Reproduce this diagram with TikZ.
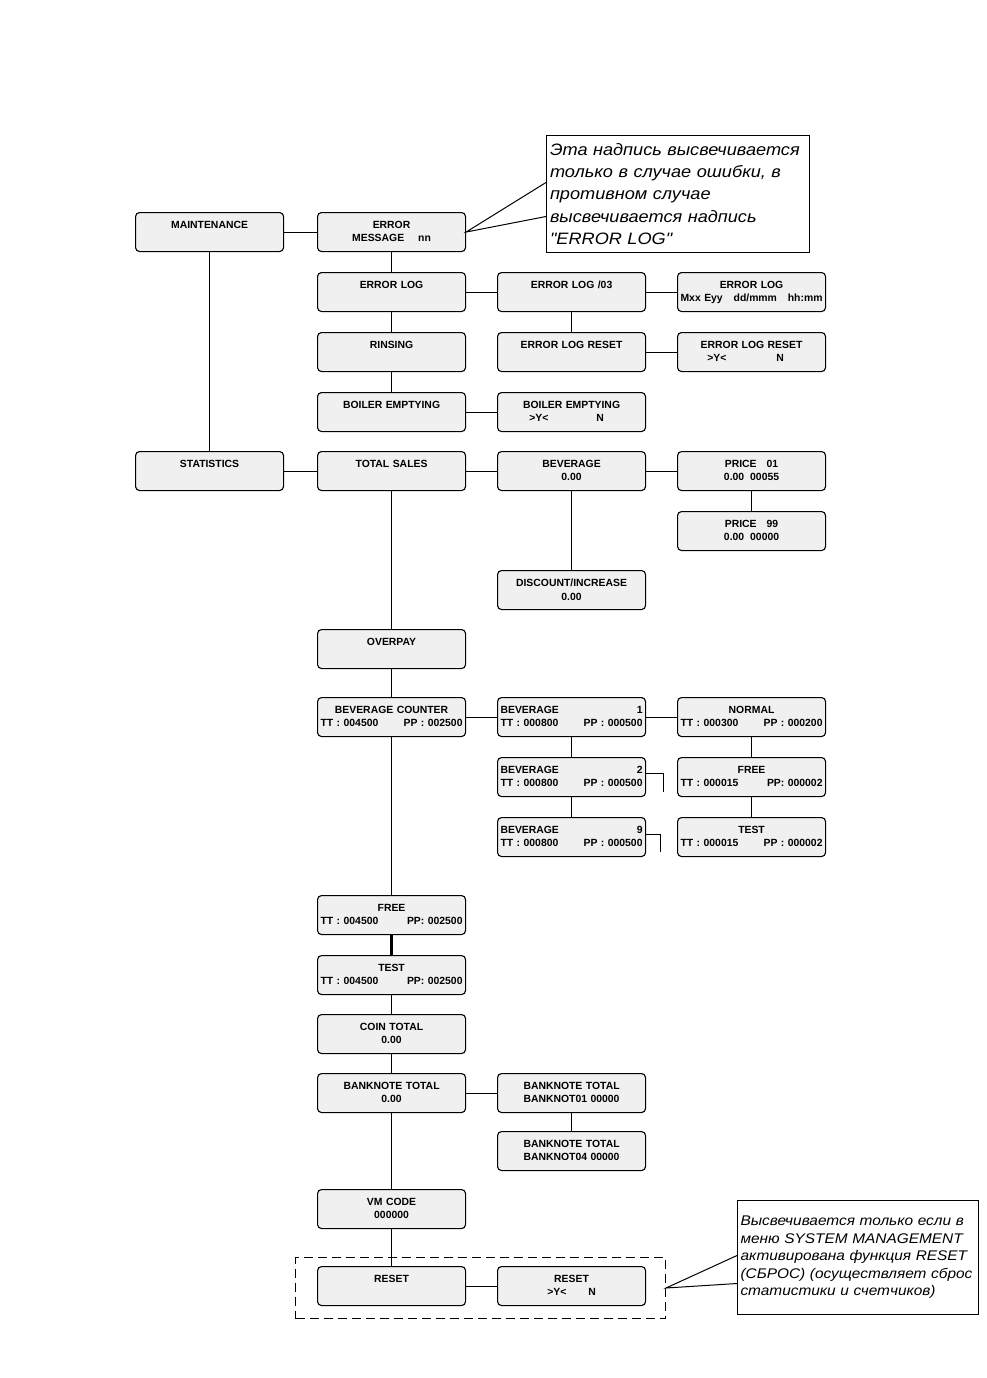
\documentclass[tikz,border=0pt]{standalone}
\usepackage{fontspec}
\setmainfont{Liberation Sans}
\newfontfamily\calloutfont[FakeStretch=1.1]{Liberation Sans}
\definecolor{boxgray}{HTML}{F0F0F0}
\tikzset{
  box/.style={draw, line width=1.1pt, rounded corners=4pt, fill=boxgray,
    minimum width=148pt, minimum height=39pt, inner sep=0pt, anchor=north west},
  boxtxt/.style={anchor=north, inner sep=0pt, align=center, text width=142pt,
    font=\fontsize{10.4}{13.5}\selectfont\bfseries},
  conn/.style={line width=1pt},
  thickconn/.style={line width=2.6pt},
  callout/.style={draw, line width=1pt, fill=white, anchor=north west, inner sep=3pt,
    align=left},
}
\newcommand\mbx[4]{%
  \node[box] (#1) at (#2,#3) {};
  \node[boxtxt] (#1-t) at ([yshift=-9pt]#1.north) {#4};
}
\begin{document}
\begin{tikzpicture}[x=1pt,y=-1pt]
\useasboundingbox (0,0) rectangle (986,1378);

% column A
\mbx{maint}{135}{212}{MAINTENANCE}
\mbx{stat}{135}{451}{STATISTICS}
% column B
\mbx{errmsg}{317}{212}{ERROR\\MESSAGE\hspace{14pt}nn}
\mbx{errlog}{317}{272}{ERROR LOG}
\mbx{rinse}{317}{332}{RINSING}
\mbx{boiler}{317}{392}{BOILER EMPTYING}
\mbx{total}{317}{451}{TOTAL SALES}
\mbx{overpay}{317}{629}{OVERPAY}
\mbx{bevcnt}{317}{697}{BEVERAGE COUNTER\\TT : 004500\hfill PP : 002500}
\mbx{free}{317}{895}{FREE\\TT : 004500\hfill PP: 002500}
\mbx{test}{317}{955}{TEST\\TT : 004500\hfill PP: 002500}
\mbx{coin}{317}{1014}{COIN TOTAL\\0.00}
\mbx{bank}{317}{1073}{BANKNOTE TOTAL\\0.00}
\mbx{vm}{317}{1189}{VM CODE\\000000}
\mbx{reset}{317}{1266}{RESET}
% column C
\mbx{errlog03}{497}{272}{ERROR LOG /03}
\mbx{errlogreset}{497}{332}{ERROR LOG RESET}
\mbx{boilery}{497}{392}{BOILER EMPTYING\\\hspace*{-10pt}>Y<\hspace{48pt}N}
\mbx{bev}{497}{451}{BEVERAGE\\0.00}
\mbx{disc}{497}{570}{DISCOUNT/INCREASE\\0.00}
\mbx{bev1}{497}{697}{BEVERAGE\hfill 1\hspace*{6pt}\\TT : 000800\hfill PP : 000500}
\mbx{bev2}{497}{757}{BEVERAGE\hfill 2\hspace*{6pt}\\TT : 000800\hfill PP : 000500}
\mbx{bev9}{497}{817}{BEVERAGE\hfill 9\hspace*{6pt}\\TT : 000800\hfill PP : 000500}
\mbx{bank01}{497}{1073}{BANKNOTE TOTAL\\BANKNOT01 00000}
\mbx{bank04}{497}{1131}{BANKNOTE TOTAL\\BANKNOT04 00000}
\mbx{resety}{497}{1266}{RESET\\>Y<\hspace{22pt}N}
% column D
\mbx{errlogm}{677}{272}{ERROR LOG\\Mxx Eyy\hfill dd/mmm\hfill hh:mm}
\mbx{errlogresety}{677}{332}{ERROR LOG RESET\\\hspace*{-12pt}>Y<\hspace{50pt}N}
\mbx{price01}{677}{451}{PRICE\hspace{10pt}01\\0.00\hspace{6pt}00055}
\mbx{price99}{677}{511}{PRICE\hspace{10pt}99\\0.00\hspace{6pt}00000}
\mbx{normal}{677}{697}{NORMAL\\TT : 000300\hfill PP : 000200}
\mbx{freed}{677}{757}{FREE\\TT : 000015\hfill PP: 000002}
\mbx{testd}{677}{817}{TEST\\TT : 000015\hfill PP : 000002}

% connectors
\draw[conn] (maint) -- (errmsg);
\draw[conn] (maint) -- (stat);
\draw[conn] (errmsg) -- (errlog);
\draw[conn] (errlog) -- (rinse);
\draw[conn] (rinse) -- (boiler);
\draw[conn] (errlog) -- (errlog03);
\draw[conn] (errlog03) -- (errlogm);
\draw[conn] (errlog03) -- (errlogreset);
\draw[conn] (errlogreset) -- (errlogresety);
\draw[conn] (boiler) -- (boilery);
\draw[conn] (stat) -- (total);
\draw[conn] (total) -- (bev);
\draw[conn] (bev) -- (price01);
\draw[conn] (price01) -- (price99);
\draw[conn] (bev) -- (disc);
\draw[conn] (total) -- (overpay);
\draw[conn] (overpay) -- (bevcnt);
\draw[conn] (bevcnt) -- (free);
\draw[thickconn] (free) -- (test);
\draw[conn] (test) -- (coin);
\draw[conn] (coin) -- (bank);
\draw[conn] (bank) -- (vm);
\draw[conn] (vm) -- (reset);
\draw[conn] (reset) -- (resety);
\draw[conn] (bevcnt) -- (bev1);
\draw[conn] (bev1) -- (normal);
\draw[conn] (bev1) -- (bev2);
\draw[conn] (bev2) -- (bev9);
\draw[conn] (normal) -- (freed);
\draw[conn] (freed) -- (testd);
\draw[conn] (bank) -- (bank01);
\draw[conn] (bank01) -- (bank04);
\draw[conn] ([yshift=3.5pt]bev2.east) -- ++(17,0) -- ++(0,18);
\draw[conn] ([yshift=2.5pt]bev9.east) -- ++(14,0) -- ++(0,17);

% dashed group
\node[draw, dashed, dash pattern=on 9pt off 5pt, line width=1pt, minimum width=370pt,
  minimum height=61pt, inner sep=0pt, anchor=north west] (grp) at (295,1257) {};

% callouts
\node[callout, minimum width=263pt, minimum height=117pt, text width=256pt,
  font=\calloutfont\itshape\fontsize{16.5}{22.3}\selectfont] (note1) at (546,135)
  {Эта надпись высвечивается\\только в случае ошибки, в\\противном случае\\высвечивается надпись\\"ERROR LOG"};
\draw[conn] ([yshift=11.5pt]note1.west) -- (errmsg.east) -- ([yshift=-22.5pt]note1.west);

\node[callout, minimum width=241pt, minimum height=114pt, text width=235pt,
  font=\calloutfont\itshape\fontsize{14}{17.5}\selectfont] (note2) at (737,1200)
  {Высвечивается только если в\\меню SYSTEM MANAGEMENT\\активирована функция RESET\\(СБРОС) (осуществляет сброс\\статистики и счетчиков)};
\draw[conn] ([yshift=2pt]note2.west) -- (grp.east) -- ([yshift=-26pt]note2.west);
\end{tikzpicture}
\end{document}
